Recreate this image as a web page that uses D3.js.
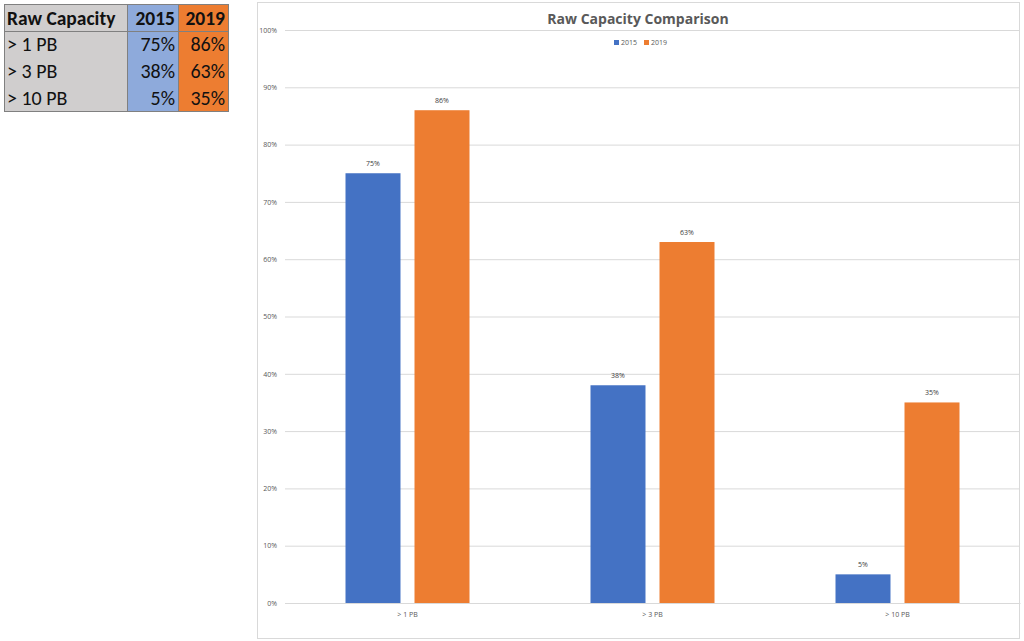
<!DOCTYPE html>
<html><head><meta charset="utf-8">
<script src="https://cdn.jsdelivr.net/npm/d3@7/dist/d3.min.js"></script>
<style>body{margin:0;background:#fff;}svg{display:block;}</style>
</head><body>
<svg id="c" width="1024" height="641"></svg>
<script>
const categories = ["> 1 PB", "> 3 PB", "> 10 PB"];
const seriesNames = ["2015", "2019"];
const values2015 = [75, 38, 5];
const values2019 = [86, 63, 35];
const yTicks = [0,10,20,30,40,50,60,70,80,90,100];
const tableHeader = ["Raw Capacity", "2015", "2019"];

(function(){
const colors = {"2015":"#4472c4","2019":"#ed7d31"};
const svg = d3.select("#c");
const font = "'Open Sans', 'Noto Sans', sans-serif";

// ---- table ----
const tX = [4,127,178,228], tY = [4,31,57,84,111];
const colFill = ["#d0cece","#8eaadb","#ed7d31"];
const tg = svg.append("g");
const rows = [tableHeader].concat(categories.map((c,i)=>[c, values2015[i]+"%", values2019[i]+"%"]));
rows.forEach((r,ri)=>{
  r.forEach((cell,ci)=>{
    tg.append("rect").attr("x",tX[ci]).attr("y",tY[ri]).attr("width",tX[ci+1]-tX[ci]).attr("height",tY[ri+1]-tY[ri])
      .attr("fill",colFill[ci]);
    const t = tg.append("text").attr("y",(tY[ri]+tY[ri+1])/2+7).text(cell)
      .attr("font-family","Carlito, Calibri, 'Open Sans', sans-serif").attr("font-size",ri===0?19.5:20)
      .attr("font-weight",ri===0?"bold":"normal").attr("fill","#111");
    if(ci===0) t.attr("x",tX[0]+3); else t.attr("x",tX[ci+1]-3).attr("text-anchor","end");
  });
});
tg.append("rect").attr("x",tX[0]+0.5).attr("y",tY[0]+0.5).attr("width",tX[3]-tX[0]).attr("height",tY[4]-tY[0])
  .attr("fill","none").attr("stroke","#808080").attr("stroke-width",1);
[tX[1],tX[2]].forEach(xx=>tg.append("line").attr("x1",xx+0.5).attr("x2",xx+0.5).attr("y1",tY[0]).attr("y2",tY[4]).attr("stroke","#808080"));
tg.append("line").attr("x1",tX[0]).attr("x2",tX[3]).attr("y1",tY[1]+0.5).attr("y2",tY[1]+0.5).attr("stroke","#808080");

// ---- chart frame ----
svg.append("rect").attr("x",257.5).attr("y",2.5).attr("width",762).attr("height",636)
  .attr("fill","#fff").attr("stroke","#d9d9d9");

const pL = 285, pR = 1020, pT = 30, pB = 603;
const x0 = d3.scaleBand().domain(categories).range([pL,pR]).paddingInner(0).paddingOuter(0);
const x1 = d3.scaleBand().domain(seriesNames).range([60.5, 184.5]).paddingInner(0.203);
const y = d3.scaleLinear().domain([0,100]).range([pB, pT]);

const yAxis = d3.axisLeft(y).tickValues(yTicks).tickFormat(d=>d+"%").tickSize(-(pR-pL-1)).tickPadding(8);
const ga = svg.append("g").attr("transform",`translate(${pL},0)`).call(yAxis);
ga.select(".domain").remove();
ga.selectAll(".tick line").attr("stroke","#d9d9d9");
ga.selectAll(".tick text").attr("font-family",font).attr("font-size",7).attr("fill","#595959");

const xAxis = d3.axisBottom(x0).tickSize(0).tickPadding(9);
const gx = svg.append("g").attr("transform",`translate(0,${pB})`).call(xAxis);
gx.select(".domain").attr("stroke","#d9d9d9");
gx.selectAll(".tick text").attr("font-family",font).attr("font-size",7).attr("fill","#595959");

const data = categories.map((c,i)=>({cat:c, vals:[{s:"2015",v:values2015[i]},{s:"2019",v:values2019[i]}]}));
const gg = svg.append("g").selectAll("g").data(data).join("g").attr("transform",d=>`translate(${x0(d.cat)},0)`);
gg.selectAll("rect").data(d=>d.vals).join("rect")
  .attr("x",d=>x1(d.s)).attr("width",x1.bandwidth())
  .attr("y",d=>y(d.v)).attr("height",d=>pB-y(d.v)).attr("fill",d=>colors[d.s]);
gg.selectAll("text").data(d=>d.vals).join("text")
  .attr("x",d=>x1(d.s)+x1.bandwidth()/2).attr("y",d=>y(d.v)-7).attr("text-anchor","middle")
  .attr("font-family",font).attr("font-size",7).attr("fill","#404040").text(d=>d.v+"%");

// title
svg.append("text").attr("x",638).attr("y",24).attr("text-anchor","middle")
  .attr("font-family",font).attr("font-size",14).attr("font-weight","bold").attr("fill","#595959").text("Raw Capacity Comparison");

// legend
const lg = svg.append("g").attr("transform","translate(614,40)");
seriesNames.forEach((s,i)=>{
  const g = lg.append("g").attr("transform",`translate(${i*30},0)`);
  g.append("rect").attr("width",5).attr("height",5).attr("fill",colors[s]);
  g.append("text").attr("x",7).attr("y",5).attr("font-family",font).attr("font-size",7).attr("fill","#595959").text(s);
});
})();
</script>
</body></html>
